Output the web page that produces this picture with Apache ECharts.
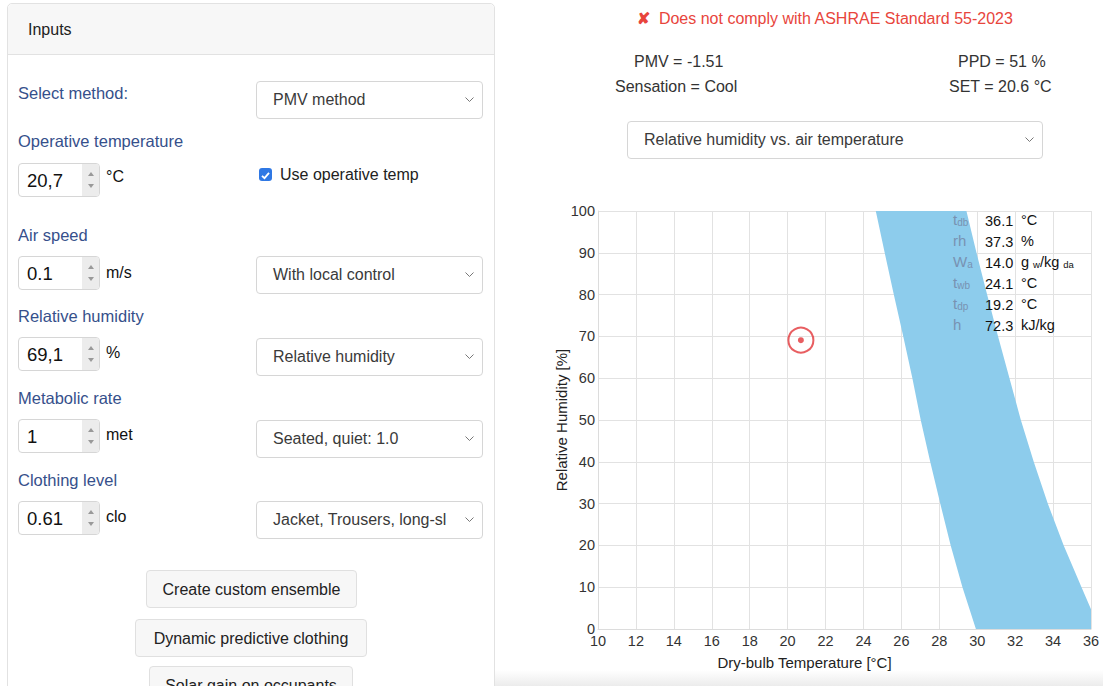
<!DOCTYPE html>
<html>
<head>
<meta charset="utf-8">
<script src="https://cdn.jsdelivr.net/npm/echarts@6/dist/echarts.min.js"></script>
<style>
  body { margin: 0; width: 1103px; height: 686px; overflow: hidden; background: #fff;
         font-family: "Liberation Sans", Arial, Helvetica, sans-serif; position: relative; }
  .abs { position: absolute; }
  .card { left: 7px; top: 3px; width: 486px; height: 720px; border: 1px solid #e2e2e2; border-radius: 5px; }
  .card .head { height: 50px; background: #f7f7f7; border-bottom: 1px solid #e2e2e2; border-radius: 5px 5px 0 0;
                font-size: 16px; color: #222; line-height: 52px; padding-left: 20px; }
  .lbl { font-size: 16.5px; color: #36508b; left: 18px; line-height: 20px; }
  .sel { left: 256px; width: 227px; height: 38px; border: 1px solid #d6d6d6; border-radius: 4px; box-sizing: border-box;
         font-size: 16px; color: #3a3a3a; line-height: 36px; padding-left: 16px; white-space: nowrap; }
  .sel svg { position: absolute; right: 8px; top: 15px; }
  .num { left: 18px; width: 82px; height: 34px; border: 1px solid #d6d6d6; border-radius: 4px;
         font-size: 18.5px; color: #111; line-height: 33px; padding-left: 8px; box-sizing: border-box; }
  .spin { position: absolute; right: 0; top: 0; width: 17px; height: 32px; background: #ececec; border-radius: 0 3px 3px 0; }
  .spin:before, .spin:after { content: ""; position: absolute; left: 6px; border-left: 3px solid transparent; border-right: 3px solid transparent; }
  .spin:before { top: 8px; border-bottom: 4px solid #999; }
  .spin:after { top: 20px; border-top: 4px solid #999; }
  .unit { font-size: 16px; color: #111; left: 106px; line-height: 20px; }
  .btn { background: #f7f7f7; border: 1px solid #e0e0e0; border-radius: 4px; font-size: 16px; color: #222;
         text-align: center; line-height: 38px; height: 38px; box-sizing: border-box; }
  .stat { font-size: 16px; color: #333; line-height: 20px; }
  #chart { left: 540px; top: 190px; width: 563px; height: 496px; }
  .fade { left: 495px; top: 670px; width: 608px; height: 16px;
          background: linear-gradient(to bottom, rgba(255,255,255,0), rgba(200,200,200,0.35)); }
</style>
</head>
<body>
<div class="abs card"><div class="head">Inputs</div></div>

<div class="abs lbl" style="top:83px">Select method:</div>
<div class="abs sel" style="top:81px">PMV method<svg width="9" height="6"><polyline points="0.5,0.5 4.5,4.5 8.5,0.5" fill="none" stroke="#777" stroke-width="1"/></svg></div>

<div class="abs lbl" style="top:131px">Operative temperature</div>
<div class="abs num" style="top:163px">20,7<div class="spin"></div></div>
<div class="abs unit" style="top:167px">°C</div>
<div class="abs" style="left:259px;top:168px;width:13px;height:13px;background:#2f78e4;border-radius:3px">
  <svg width="13" height="13"><polyline points="3,6.8 5.5,9.2 10,3.8" fill="none" stroke="#fff" stroke-width="1.8"/></svg></div>
<div class="abs stat" style="left:280px;top:165px;color:#222">Use operative temp</div>

<div class="abs lbl" style="top:225px">Air speed</div>
<div class="abs num" style="top:256px">0.1<div class="spin"></div></div>
<div class="abs unit" style="top:263px">m/s</div>
<div class="abs sel" style="top:256px">With local control<svg width="9" height="6"><polyline points="0.5,0.5 4.5,4.5 8.5,0.5" fill="none" stroke="#777" stroke-width="1"/></svg></div>

<div class="abs lbl" style="top:306px">Relative humidity</div>
<div class="abs num" style="top:337px">69,1<div class="spin"></div></div>
<div class="abs unit" style="top:343px">%</div>
<div class="abs sel" style="top:338px">Relative humidity<svg width="9" height="6"><polyline points="0.5,0.5 4.5,4.5 8.5,0.5" fill="none" stroke="#777" stroke-width="1"/></svg></div>

<div class="abs lbl" style="top:388px">Metabolic rate</div>
<div class="abs num" style="top:419px">1<div class="spin"></div></div>
<div class="abs unit" style="top:425px">met</div>
<div class="abs sel" style="top:420px">Seated, quiet: 1.0<svg width="9" height="6"><polyline points="0.5,0.5 4.5,4.5 8.5,0.5" fill="none" stroke="#777" stroke-width="1"/></svg></div>

<div class="abs lbl" style="top:470px">Clothing level</div>
<div class="abs num" style="top:501px">0.61<div class="spin"></div></div>
<div class="abs unit" style="top:507px">clo</div>
<div class="abs sel" style="top:501px">Jacket, Trousers, long-sl<svg width="9" height="6"><polyline points="0.5,0.5 4.5,4.5 8.5,0.5" fill="none" stroke="#777" stroke-width="1"/></svg></div>

<div class="abs btn" style="left:146px;top:570px;width:211px">Create custom ensemble</div>
<div class="abs btn" style="left:135px;top:619px;width:232px">Dynamic predictive clothing</div>
<div class="abs btn" style="left:149px;top:666px;width:204px">Solar gain on occupants</div>

<div class="abs" style="left:637px;top:9px;font-size:16px;color:#e8453c;line-height:20px;white-space:nowrap"><b>✘</b>&nbsp;&nbsp;Does not comply with ASHRAE Standard 55-2023</div>
<div class="abs stat" style="left:634px;top:52px">PMV = -1.51</div>
<div class="abs stat" style="left:615px;top:77px">Sensation = Cool</div>
<div class="abs stat" style="left:958px;top:52px">PPD = 51 %</div>
<div class="abs stat" style="left:949px;top:77px">SET = 20.6 °C</div>
<div class="abs sel" style="left:627px;top:121px;width:416px">Relative humidity vs. air temperature<svg width="9" height="6"><polyline points="0.5,0.5 4.5,4.5 8.5,0.5" fill="none" stroke="#777" stroke-width="1"/></svg></div>

<div id="chart" class="abs"></div>
<div class="abs fade"></div>

<script>
// comfort zone edges at each 10 % RH step
const rhLevels = [100, 90, 80, 70, 60, 50, 40, 30, 20, 10, 0];
const coolEdge = [24.65, 25.12, 25.6, 26.1, 26.58, 27.02, 27.52, 28.05, 28.6, 29.22, 29.93];
const warmEdge = [29.43, 29.96, 30.52, 31.1, 31.7, 32.3, 32.98, 33.72, 34.56, 35.5, 36.45];
// current state
const pointTemp = [20.7];
const pointRh = [69.1];
// psychrometric readout
const infoSym = ['t', 'rh', 'W', 't', 't', 'h'];
const infoSub = ['db', '', 'a', 'wb', 'dp', ''];
const infoVal = ['36.1', '37.3', '14.0', '24.1', '19.2', '72.3'];
const infoUnit = ['°C', '%', 'g w/kg da', '°C', '°C', 'kJ/kg'];

const chart = echarts.init(document.getElementById('chart'), null, { renderer: 'svg' });
const font = '"Liberation Sans", Arial, Helvetica, sans-serif';
const red = '#e2363a';
const symColor = '#7892b2';

let graphics = [];
infoSym.forEach(function (s, i) {
  let y = 22 + i * 21;
  graphics.push({
    type: 'text', left: 413, top: y, z: 100,
    style: {
      text: '{a|' + s + '}' + (infoSub[i] ? '{b|' + infoSub[i] + '}' : ''),
      rich: {
        a: { fontSize: 15, fill: symColor, fontFamily: font, lineHeight: 17, verticalAlign: 'bottom' },
        b: { fontSize: 10, fill: symColor, fontFamily: font, lineHeight: 17, verticalAlign: 'bottom' }
      }
    }
  });
  graphics.push({
    type: 'text', left: 445, top: y, z: 100,
    style: { text: infoVal[i], fontSize: 14.5, fill: '#111', fontFamily: font, lineHeight: 17 }
  });
  let u = infoUnit[i] === 'g w/kg da'
    ? '{a|g }{b|w}{a|/kg }{b|da}'
    : '{a|' + infoUnit[i] + '}';
  graphics.push({
    type: 'text', left: 481, top: y, z: 100,
    style: {
      text: u,
      rich: {
        a: { fontSize: 14.5, fill: '#111', fontFamily: font, lineHeight: 17, verticalAlign: 'bottom' },
        b: { fontSize: 9.5, fill: '#111', fontFamily: font, lineHeight: 17, verticalAlign: 'bottom' }
      }
    }
  });
});

chart.setOption({
  animation: false,
  textStyle: { fontFamily: font },
  grid: { left: 58, right: 12, top: 21, bottom: 57 },
  xAxis: {
    type: 'value', min: 10, max: 36, interval: 2,
    name: 'Dry-bulb Temperature [°C]', nameLocation: 'middle', nameGap: 26,
    nameTextStyle: { fontSize: 15, color: '#222', padding: [0, 80, 0, 0] },
    axisLine: { lineStyle: { color: '#dcdcdc' } },
    axisTick: { show: false },
    axisLabel: { fontSize: 14.5, color: '#333', margin: 4 },
    splitLine: { lineStyle: { color: '#e2e2e2' } }
  },
  yAxis: {
    type: 'value', min: 0, max: 100, interval: 10,
    name: 'Relative Humidity [%]', nameLocation: 'middle', nameGap: 29, nameMoveOverlap: false,
    nameTextStyle: { fontSize: 15, color: '#222' },
    axisLine: { show: true, lineStyle: { color: '#dcdcdc' } },
    axisTick: { show: false },
    axisLabel: { fontSize: 14.5, color: '#333', margin: 3 },
    splitLine: { lineStyle: { color: '#e2e2e2' } }
  },
  graphic: graphics,
  series: [
    {
      type: 'custom',
      clip: true,
      data: [[30, 50]],
      renderItem: function (params, api) {
        let pts = [];
        rhLevels.forEach(function (rh, i) { pts.push(api.coord([coolEdge[i], rh])); });
        for (let i = rhLevels.length - 1; i >= 0; i--) pts.push(api.coord([warmEdge[i], rhLevels[i]]));
        return { type: 'polygon', shape: { points: pts }, style: { fill: '#8dccec' } };
      },
      z: 1
    },
    {
      type: 'scatter',
      data: pointTemp.map(function (t, i) { return [t, pointRh[i]]; }),
      symbolSize: 25,
      itemStyle: { color: 'rgba(0,0,0,0)', borderColor: red, borderWidth: 2 },
      z: 3
    },
    {
      type: 'scatter',
      data: pointTemp.map(function (t, i) { return [t, pointRh[i]]; }),
      symbolSize: 6,
      itemStyle: { color: red },
      z: 4
    }
  ]
});
</script>
</body>
</html>
